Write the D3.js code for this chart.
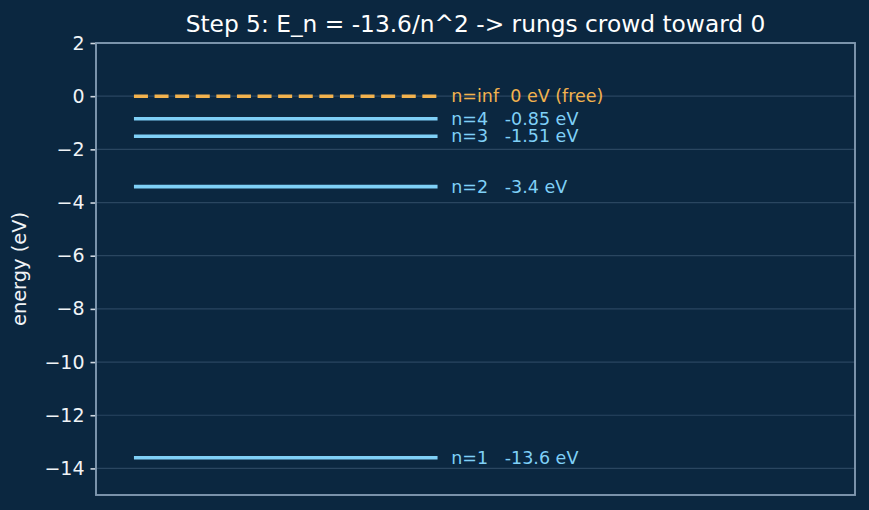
<!DOCTYPE html>
<html><head><meta charset="utf-8">
<script src="https://cdn.jsdelivr.net/npm/d3@7"></script>
<style>
html,body{margin:0;padding:0;background:#0b2740;}
svg{display:block;font-family:"DejaVu Sans",sans-serif;}
</style></head>
<body>
<script>
const levels = ["n=1","n=2","n=3","n=4","n=inf"];
const energies = [-13.6, -3.4, -1.51, -0.85, 0];
const labels = ["n=1   -13.6 eV","n=2   -3.4 eV","n=3   -1.51 eV","n=4   -0.85 eV","n=inf  0 eV (free)"];
const isFree = [false,false,false,false,true];
const yTicks = [2,0,-2,-4,-6,-8,-10,-12,-14];
const yDomain = [-15, 2];
const xDomain = [0, 1];
const lineStart = 0.05, lineEnd = 0.45, labelX = 0.468;

const W=869,H=510, m={l:96,r:14,t:43,b:15};
const svg=d3.select("body").append("svg").attr("width",W).attr("height",H);
svg.append("rect").attr("width",W).attr("height",H).attr("fill","#0b2740");
const x=d3.scaleLinear().domain(xDomain).range([m.l,W-m.r]);
const y=d3.scaleLinear().domain(yDomain).range([H-m.b,m.t]);

// grid
svg.append("g").selectAll("line").data(yTicks).join("line")
  .attr("x1",m.l).attr("x2",W-m.r).attr("y1",d=>y(d)).attr("y2",d=>y(d))
  .attr("stroke","#2a4660").attr("stroke-width",1.2);

// axis
const ax=svg.append("g").attr("transform",`translate(${m.l},0)`)
  .call(d3.axisLeft(y).tickValues(yTicks).tickSize(5.5).tickPadding(6).tickFormat(d=>d<0?"\u2212"+Math.abs(d):d));
ax.attr("font-size",null).attr("font-family",null);
ax.select(".domain").remove();
ax.selectAll(".tick line").attr("stroke","#d0d8e0").attr("stroke-width",1.6);
ax.selectAll(".tick text").attr("fill","#f0f3f6").style("font-size","19px").style("font-family","DejaVu Sans");

// frame
svg.append("rect").attr("x",m.l).attr("y",m.t).attr("width",W-m.r-m.l).attr("height",H-m.b-m.t)
  .attr("fill","none").attr("stroke","#8099b0").attr("stroke-width",1.9);

// levels
const data=levels.map((l,i)=>({l,e:energies[i],lab:labels[i],free:isFree[i]}));
svg.append("g").selectAll("line").data(data).join("line")
  .attr("x1",x(lineStart)).attr("x2",x(lineEnd)).attr("y1",d=>y(d.e)).attr("y2",d=>y(d.e))
  .attr("stroke",d=>d.free?"#f2b24e":"#7fd0f7").attr("stroke-width",3.6)
  .attr("stroke-dasharray",d=>d.free?"14,6.6":null);
svg.append("g").selectAll("text").data(data).join("text")
  .attr("x",x(labelX)).attr("y",d=>y(d.e)).attr("dy","0.35em")
  .attr("fill",d=>d.free?"#f2b24e":"#7fd0f7").style("font-size","17.5px")
  .attr("xml:space","preserve").style("white-space","pre").text(d=>d.lab);

// title
svg.append("text").attr("x",(m.l+W-m.r)/2).attr("y",32).attr("text-anchor","middle")
  .attr("fill","#ffffff").style("font-size","23.3px").text("Step 5: E_n = -13.6/n^2 -> rungs crowd toward 0");
// y label
svg.append("text").attr("transform",`translate(26,${(m.t+H-m.b)/2}) rotate(-90)`).attr("text-anchor","middle")
  .attr("fill","#f0f3f6").style("font-size","19.4px").text("energy (eV)");
</script>
</body></html>
